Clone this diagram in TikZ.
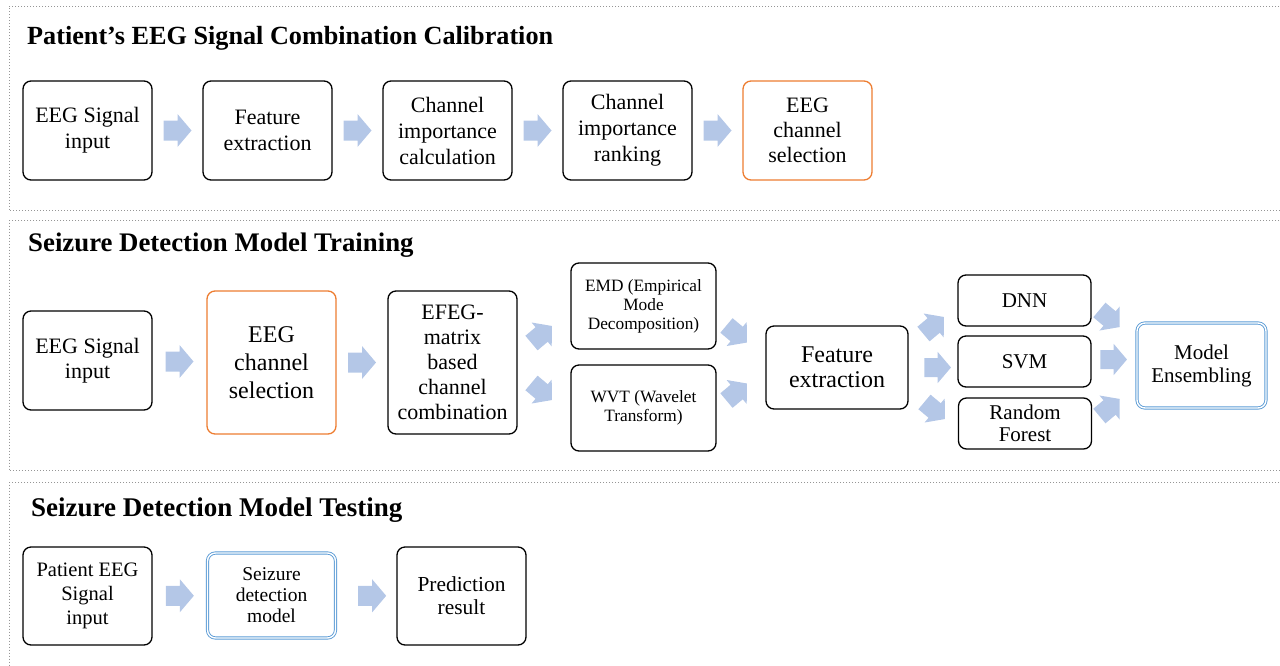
\documentclass[tikz,border=0pt]{standalone}
\usepackage{fontspec}
\setmainfont{Liberation Serif}
\usetikzlibrary{calc}
\definecolor{arrowblue}{RGB}{180,199,231}
\definecolor{boxorange}{RGB}{237,125,49}
\definecolor{boxblue}{RGB}{91,155,213}
\definecolor{framegray}{RGB}{150,150,150}
\tikzset{
 box/.style={draw=black, line width=1.3pt, rounded corners=8pt, align=center, inner sep=0pt, font=\fontsize{22}{25}\selectfont},
 obox/.style={box, draw=boxorange},
 dbox/.style={box, draw=boxblue, double=white, double distance=1.4pt, line width=0.9pt},
 sectionframe/.style={draw=framegray, line width=1pt, dash pattern=on 1pt off 2pt},
 ttl/.style={anchor=base west, inner sep=0pt, font=\fontsize{26.2}{28}\selectfont\bfseries},
 blockarrow/.pic={\fill[arrowblue] (-14,-10) -- (0,-10) -- (0,-16.5) -- (14,0) -- (0,16.5) -- (0,10) -- (-14,10) -- cycle;}
}
\begin{document}
\begin{tikzpicture}[x=1pt,y=-1pt]
\useasboundingbox (0,0) rectangle (1280,665);
\clip (0,0) rectangle (1280,665);
% section frames
\draw[sectionframe] (1300,6) -- (9,6) -- (9,210.7) -- (1300,210.7);
\draw[sectionframe] (1300,220.7) -- (9,220.7) -- (9,470.7) -- (1300,470.7);
\draw[sectionframe] (1300,482.7) -- (9,482.7) -- (9,700);
% titles
\node[ttl] (title1) at (27,44) {Patient’s EEG Signal Combination Calibration};
\node[ttl, font=\fontsize{26.8}{28}\selectfont\bfseries] (title2) at (28,251) {Seizure Detection Model Training};
\node[ttl, font=\fontsize{27}{28}\selectfont\bfseries] (title3) at (31,516) {Seizure Detection Model Testing};
% top row
\tikzset{toprow/.style={box, minimum width=129pt, minimum height=99pt, font=\fontsize{22}{26}\selectfont}}
\node[toprow] (t1) at (87.5,130.5) {EEG Signal\\input};
\node[toprow] (t2) at (267.5,130.5) {Feature\\extraction};
\node[toprow] (t3) at (447.5,130.5) {Channel\\importance\\calculation};
\node[toprow] (t4) at (627.5,130.5) {Channel\\importance\\ranking};
\node[toprow, obox] (t5) at (807.5,130.5) {EEG\\channel\\selection};
\pic at ($(t1.east)!0.5!(t2.west)$) {blockarrow};
\pic at ($(t2.east)!0.5!(t3.west)$) {blockarrow};
\pic at ($(t3.east)!0.5!(t4.west)$) {blockarrow};
\pic at ($(t4.east)!0.5!(t5.west)$) {blockarrow};
% middle row
\node[box, minimum width=129pt, minimum height=99pt] (m1) at (87.5,360.5) {EEG Signal\\input};
\node[obox, minimum width=129pt, minimum height=143pt, font=\fontsize{24}{28}\selectfont] (m2) at (271.5,362.5) {EEG\\channel\\selection};
\node[box, minimum width=129pt, minimum height=143pt] (m3) at (452.5,362.5) {EFEG-\\matrix\\based\\channel\\combination};
\node[box, minimum width=145pt, minimum height=86pt, font=\fontsize{17.3}{19}\selectfont] (m4) at (643.5,306) {EMD (Empirical\\Mode\\Decomposition)};
\node[box, minimum width=145pt, minimum height=86pt, font=\fontsize{17.3}{19}\selectfont] (m5) at (643.5,408) {WVT (Wavelet\\Transform)};
\node[box, minimum width=142pt, minimum height=83pt, font=\fontsize{24}{25}\selectfont] (m6) at (837,367.5) {Feature\\extraction};
\node[box, minimum width=133pt, minimum height=51pt, font=\fontsize{21}{22}\selectfont] (m7) at (1024.5,300.5) {DNN};
\node[box, minimum width=133pt, minimum height=51pt, font=\fontsize{21}{22}\selectfont] (m8) at (1024.5,361.5) {SVM};
\node[box, minimum width=133pt, minimum height=51pt, font=\fontsize{21}{22}\selectfont] (m9) at (1025,423.5) {Random\\Forest};
\node[dbox, minimum width=129pt, minimum height=85pt, font=\fontsize{21}{23}\selectfont] (m10) at (1201.5,365.5) {Model\\Ensembling};
\pic at ($(m1.east)!0.5!(m2.west)$) {blockarrow};
\pic at ($(m2.east)!0.5!(m3.west)$) {blockarrow};
\pic[rotate=40, scale=0.95] at ($(m3.east)+(24,-28)$) {blockarrow};
\pic[rotate=-40, scale=0.95] at ($(m3.east)+(24,29)$) {blockarrow};
\pic[rotate=-40, scale=0.95] at ($(m4.east)+(20,28)$) {blockarrow};
\pic[rotate=40, scale=0.95] at ($(m5.east)+(20,-16)$) {blockarrow};
\pic[rotate=40, scale=0.95] at ($(m6.east)+(25,-42)$) {blockarrow};
\pic[scale=0.95] at ($(m6.east)+(29,0)$) {blockarrow};
\pic[rotate=-40, scale=0.95] at ($(m6.east)+(26,43)$) {blockarrow};
\pic[rotate=-40, scale=0.95] at ($(m10.west)+(-27,-47)$) {blockarrow};
\pic[scale=0.95] at ($(m8.east)+(22,-2)$) {blockarrow};
\pic[rotate=40, scale=0.95] at ($(m10.west)+(-27,42)$) {blockarrow};
% bottom row
\node[box, minimum width=129pt, minimum height=98pt, font=\fontsize{20.5}{24}\selectfont] (b1) at (87.5,596) {Patient EEG\\Signal\\input};
\node[dbox, minimum width=128pt, minimum height=85pt, font=\fontsize{19.5}{21}\selectfont] (b2) at (271.5,595.5) {Seizure\\detection\\model};
\node[box, minimum width=129pt, minimum height=98pt, font=\fontsize{21.4}{23}\selectfont] (b3) at (461.5,596) {Prediction\\result};
\pic at ($(b1.east)!0.5!(b2.west)$) {blockarrow};
\pic at ($(b2.east)!0.6!(b3.west)$) {blockarrow};
\end{tikzpicture}
\end{document}
